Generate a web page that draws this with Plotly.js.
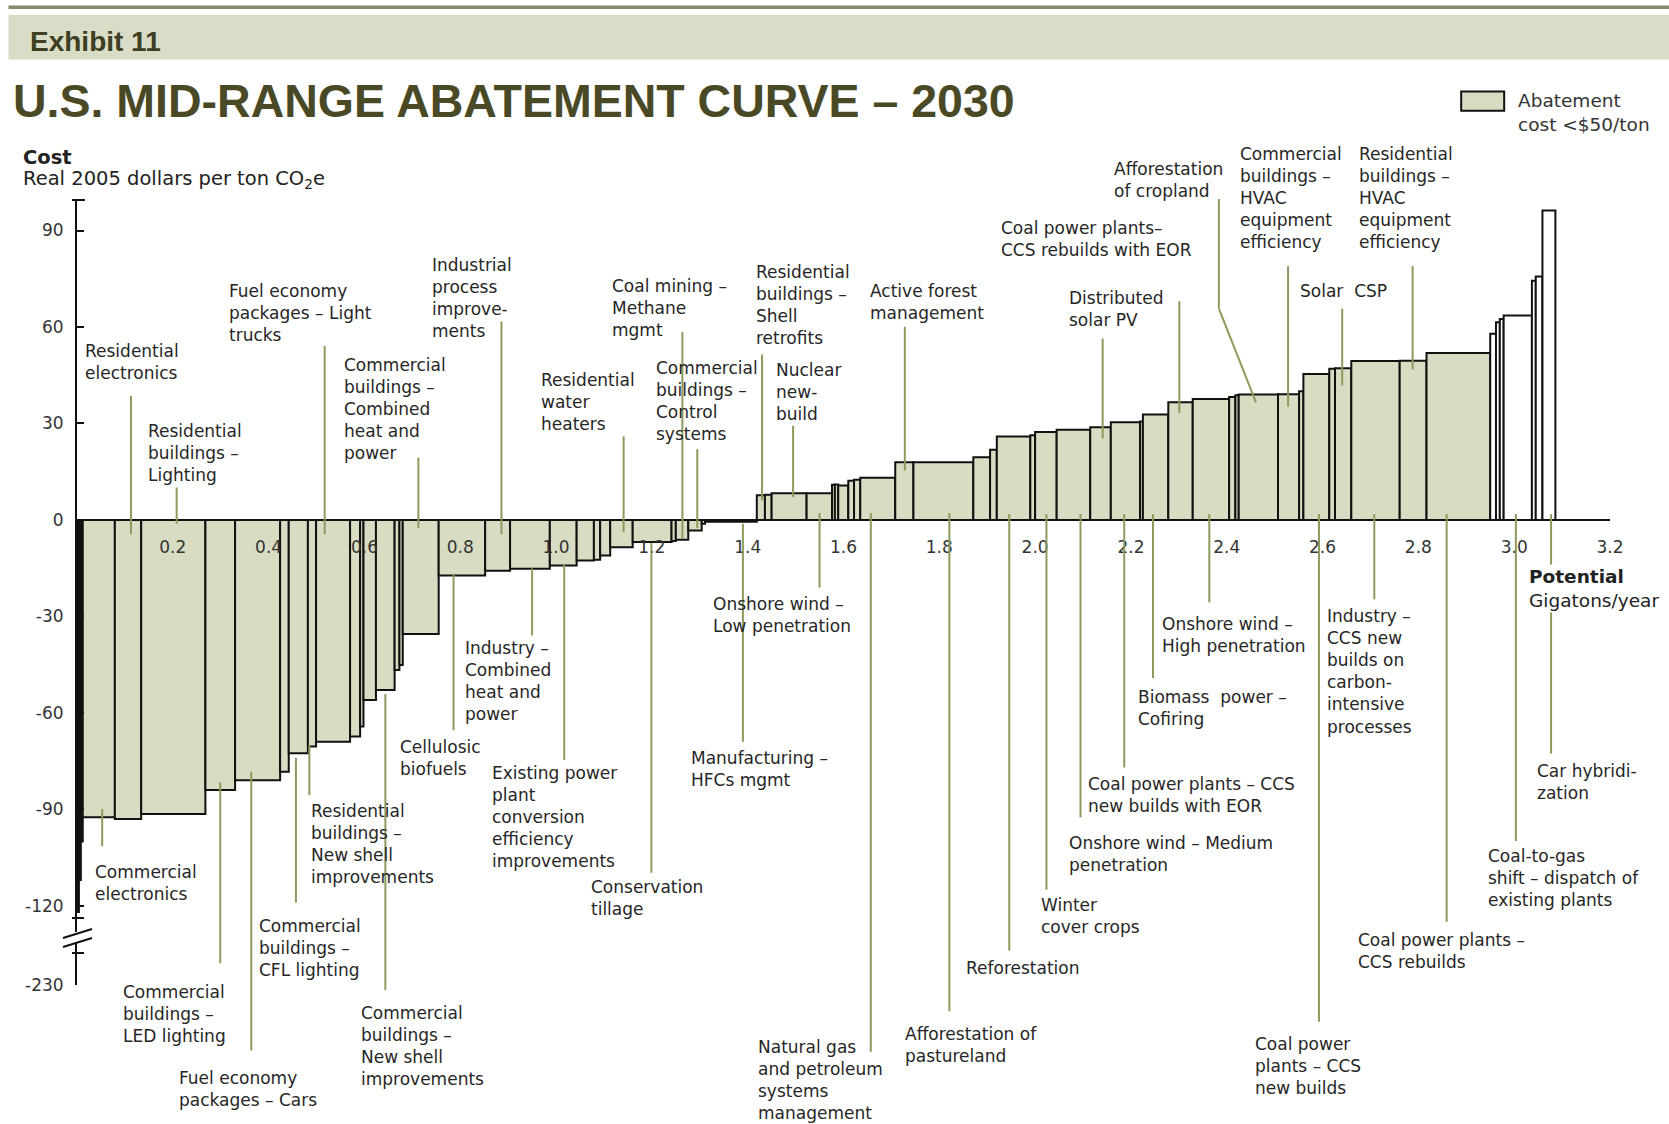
<!DOCTYPE html>
<html><head><meta charset="utf-8">
<script src="https://cdn.plot.ly/plotly-3.0.1.min.js"></script>
<style>html,body{margin:0;padding:0;background:#fff}#chart{width:1669px;height:1124px}</style>
</head><body><div id="chart"></div>
<script>
// ---------- DATA ----------
// Abatement potential of each lever (Gigatons CO2e / year), in curve order
const potential = [0.004,0.004,0.004,0.067,0.055,0.134,0.062,0.094,0.018,0.040,
  0.017,0.071,0.021,0.007,0.026,0.039,0.010,0.007,0.075,0.097,
  0.052,0.083,0.056,0.036,0.013,0.021,0.047,0.081,0.009,0.026,
  0.028,0.007,0.108,0.017,0.014,0.073,0.053,0.006,0.007,0.021,
  0.012,0.013,0.073,0.038,0.125,0.035,0.014,0.070,0.010,0.045,
  0.070,0.043,0.061,0.006,0.053,0.051,0.076,0.013,0.007,0.082,
  0.044,0.009,0.054,0.012,0.034,0.101,0.056,0.133,0.012,0.008,
  0.008,0.059,0.008,0.014,0.027];
// Abatement cost of each lever (real 2005 $ per ton CO2e)
const cost = [-122,-112,-100,-92.5,-93,-91.5,-84,-81,-78.3,-72.6,
  -70.5,-69,-67.4,-64.3,-56,-52.9,-46.7,-45.1,-35.5,-17.3,
  -15.8,-15.2,-14.2,-12.6,-12.4,-11.1,-8.5,-6.9,-6.6,-6.2,
  -3.3,-1.2,-0.6,7.7,7.8,8.3,8.3,10.9,11.0,10.7,
  12.2,12.5,13.1,17.9,17.9,19.5,21.8,25.9,26.3,27.3,
  28.0,28.8,30.4,30.6,32.8,36.6,37.6,38.2,38.8,39.0,
  39.1,40.0,45.4,47.0,47.2,49.4,49.5,51.9,57.9,61.5,
  62.5,63.6,74.4,75.7,96.2];
const xTickVals = [0.2,0.4,0.6,0.8,1.0,1.2,1.4,1.6,1.8,2.0,2.2,2.4,2.6,2.8,3.0,3.2];
const yTickVals = [90,60,30,0,-30,-60,-90,-120];
const yTickText = ['90','60','30','0','-30','-60','-90','-120'];
const brokenTickText = '-230';

// Lever names used as callouts
const labelText = [
  "Residential<br>electronics",
  "Residential<br>buildings –<br>Lighting",
  "Fuel economy<br>packages – Light<br>trucks",
  "Commercial<br>buildings –<br>Combined<br>heat and<br>power",
  "Industrial<br>process<br>improve-<br>ments",
  "Residential<br>water<br>heaters",
  "Coal mining –<br>Methane<br>mgmt",
  "Commercial<br>buildings –<br>Control<br>systems",
  "Residential<br>buildings –<br>Shell<br>retrofits",
  "Nuclear<br>new-<br>build",
  "Active forest<br>management",
  "Coal power plants–<br>CCS rebuilds with EOR",
  "Distributed<br>solar PV",
  "Afforestation<br>of cropland",
  "Commercial<br>buildings –<br>HVAC<br>equipment<br>efficiency",
  "Residential<br>buildings –<br>HVAC<br>equipment<br>efficiency",
  "Solar\u00a0 CSP",
  "Commercial<br>electronics",
  "Commercial<br>buildings –<br>LED lighting",
  "Fuel economy<br>packages – Cars",
  "Commercial<br>buildings –<br>CFL lighting",
  "Residential<br>buildings –<br>New shell<br>improvements",
  "Commercial<br>buildings –<br>New shell<br>improvements",
  "Cellulosic<br>biofuels",
  "Industry –<br>Combined<br>heat and<br>power",
  "Existing power<br>plant<br>conversion<br>efficiency<br>improvements",
  "Conservation<br>tillage",
  "Onshore wind –<br>Low penetration",
  "Manufacturing –<br>HFCs mgmt",
  "Natural gas<br>and petroleum<br>systems<br>management",
  "Afforestation of<br>pastureland",
  "Reforestation",
  "Winter<br>cover crops",
  "Onshore wind – Medium<br>penetration",
  "Coal power plants – CCS<br>new builds with EOR",
  "Biomass\u00a0 power –<br>Cofiring",
  "Onshore wind –<br>High penetration",
  "Industry –<br>CCS new<br>builds on<br>carbon-<br>intensive<br>processes",
  "Coal power<br>plants – CCS<br>new builds",
  "Coal power plants –<br>CCS rebuilds",
  "Coal-to-gas<br>shift – dispatch of<br>existing plants",
  "Car hybridi-<br>zation"
];
// Potential position (Gt) that each callout points at
const labelLever = [0.1126,0.208,0.517,0.7126,0.886,1.141,1.2637,1.2948,1.430,1.4948,
  1.728,2.301,2.141,2.461,2.528,2.788,2.641,
  0.0526,0.299,0.3637,0.457,0.485,0.6437,0.786,0.950,1.017,1.199,1.550,1.390,1.657,
  1.821,1.946,2.0236,2.0947,2.186,2.246,2.3636,2.708,2.5925,2.859,3.0035,3.077];

// ---------- LAYOUT PLACEMENT (page pixels of a 1568-wide view) ----------
const labelPos = [[80,330],[139,405],[215,273],[323,343],[406,249],[508,357],[575,269],[616,346],
  [710,256],[729,348],[817,273],[940,214],[1004,280],[1046,159],[1165,145],[1277,145],[1221,273],
  [89,819],[116,932],[168,1013],[243,870],[292,762],[339,952],[376,702],[437,609],[462,726],
  [555,833],[670,567],[649,712],[712,984],[850,971],[907,909],[978,850],[1004,792],[1022,737],
  [1069,655],[1092,586],[1247,579],[1179,981],[1276,883],[1398,804],[1444,724]];
const leaderSpan = [[372,502],[458,492],[325,502],[430,496],[302,502],[410,500],[312,506],[422,496],
  [333,470],[400,467],[307,442],[283,388],[318,412],null,[250,382],[250,347],[290,362],
  [760,795],[735,905],[725,987],[712,848],[700,747],[652,930],[540,686],[534,597],[530,714],
  [510,820],[482,552],[492,697],[482,988],[482,950],[483,893],[483,836],[483,768],[483,721],
  [483,637],[483,566],[483,563],[483,960],[483,866],[483,790],[483,708]];

const S = 1669/1568;
const PL = 77, PT = 200, PW = 1532.8, PH = 785;
const PXPERUNIT = 3.215;
const Y_TOP = 99.5, Y_BOT = Y_TOP - PH/PXPERUNIT;
const paperX = f => (f - PL)/PW;
const paperY = f => (PT + PH - f)/PH;
const dataXfromFull = f => (f - PL)/479;

// ---------- BARS ----------
const starts = []; let acc = 0;
potential.forEach(w => { starts.push(acc); acc += w; });
const lowX=[],lowW=[],lowY=[],hiX=[],hiW=[],hiY=[];
cost.forEach((c,i)=>{
  const m = starts[i] + potential[i]/2;
  if (c < 55) { lowX.push(m); lowW.push(potential[i]); lowY.push(c); }
  else { hiX.push(m); hiW.push(potential[i]); hiY.push(c); }
});
const FILL = '#d8dcc3';
const traces = [
  {type:'bar', x:lowX, y:lowY, width:lowW, marker:{color:FILL, line:{color:'#111', width:2}}, hoverinfo:'skip'},
  {type:'bar', x:hiX, y:hiY, width:hiW, marker:{color:'#ffffff', line:{color:'#111', width:2}}, hoverinfo:'skip'}
];

// ---------- SHAPES & ANNOTATIONS ----------
const shapes = [];
const annotations = [];
const LEADER = {color:'#8d9a5c', width:2};

// header rule and band
shapes.push({type:'rect', xref:'paper', yref:'paper', x0:paperX(8.5), x1:paperX(1669), y0:paperY(9), y1:paperY(5.5), fillcolor:'#858c6a', line:{width:0}});
shapes.push({type:'rect', xref:'paper', yref:'paper', x0:paperX(8.5), x1:paperX(1669), y0:paperY(59.5), y1:paperY(15), fillcolor:'#d9dcc6', line:{width:0}});
annotations.push({xref:'paper', yref:'paper', x:paperX(28), y:paperY(41), xanchor:'left', yanchor:'middle', showarrow:false,
  text:'<b>Exhibit 11</b>', font:{family:'Liberation Sans, Arial, sans-serif', size:28, color:'#3e3e22'}});

// legend
shapes.push({type:'rect', xref:'paper', yref:'paper', x0:paperX(1461), x1:paperX(1504), y0:paperY(110.7), y1:paperY(91.5), fillcolor:FILL, line:{color:'#111', width:2}});
annotations.push({xref:'paper', yref:'paper', x:paperX(1516), y:paperY(88), xanchor:'left', yanchor:'top', align:'left', showarrow:false,
  text:'Abatement<br>cost <$50/ton', font:{family:'DejaVu Sans, sans-serif', size:18.5, color:'#333'}});

// axis titles
annotations.push({xref:'paper', yref:'paper', x:paperX(21), y:paperY(157.5), xanchor:'left', yanchor:'middle', showarrow:false,
  text:'<b>Cost</b>', font:{family:'DejaVu Sans, sans-serif', size:19.5, color:'#222'}});
annotations.push({xref:'paper', yref:'paper', x:paperX(21), y:paperY(179), xanchor:'left', yanchor:'middle', showarrow:false,
  text:'Real 2005 dollars per ton CO<sub>2</sub>e', font:{family:'DejaVu Sans, sans-serif', size:19.5, color:'#222'}});

// axis cap and break marks
shapes.push({type:'line', xref:'paper', yref:'paper', x0:paperX(72), x1:paperX(85), y0:paperY(200), y1:paperY(200), line:{color:'#111', width:2}});
shapes.push({type:'line', xref:'paper', yref:'paper', x0:paperX(72), x1:paperX(84), y0:paperY(918), y1:paperY(918), line:{color:'#111', width:2}});
shapes.push({type:'line', xref:'paper', yref:'paper', x0:paperX(72), x1:paperX(84), y0:paperY(953), y1:paperY(953), line:{color:'#111', width:2}});
shapes.push({type:'rect', xref:'paper', yref:'paper', x0:paperX(72), x1:paperX(83), y0:paperY(943), y1:paperY(932), fillcolor:'#fff', line:{width:0}});
shapes.push({type:'line', xref:'paper', yref:'paper', x0:paperX(63), x1:paperX(92), y0:paperY(938), y1:paperY(929), line:{color:'#111', width:2}});
shapes.push({type:'line', xref:'paper', yref:'paper', x0:paperX(63), x1:paperX(92), y0:paperY(947), y1:paperY(938), line:{color:'#111', width:2}});

// callouts
labelText.forEach((t,i)=>{
  const [dx,dy] = labelPos[i];
  annotations.push({xref:'paper', yref:'paper', x:paperX(dx*S - 2), y:paperY(dy*S - 12), xanchor:'left', yanchor:'top', align:'left',
    showarrow:false, text:t, font:{family:'DejaVu Sans, sans-serif', size:17, color:'#262626'}});
  const sp = leaderSpan[i];
  if (sp) {
    shapes.push({type:'line', xref:'x', yref:'paper', x0:labelLever[i], x1:labelLever[i], y0:paperY(sp[0]*S), y1:paperY(sp[1]*S), line:LEADER});
  }
});
// bent leader for afforestation of cropland
const bendX = dataXfromFull(1145*S);
shapes.push({type:'line', xref:'x', yref:'paper', x0:bendX, x1:bendX, y0:paperY(187*S), y1:paperY(290*S), line:LEADER});
shapes.push({type:'line', xref:'x', yref:'paper', x0:bendX, x1:labelLever[13], y0:paperY(290*S), y1:paperY(378*S), line:LEADER});

// x-axis caption
annotations.push({xref:'paper', yref:'paper', x:paperX(1527), y:paperY(564), xanchor:'left', yanchor:'top', align:'left', showarrow:false,
  bgcolor:'#ffffff', text:'<b>Potential</b><br>Gigatons/year', font:{family:'DejaVu Sans, sans-serif', size:18.5, color:'#222'}});

const layout = {
  width:1669, height:1124,
  margin:{l:PL, r:1669-PL-PW, t:PT, b:1124-PT-PH, pad:0},
  paper_bgcolor:'#fff', plot_bgcolor:'rgba(0,0,0,0)',
  showlegend:false, barmode:'overlay',
  title:{text:'<b>U.S. MID-RANGE ABATEMENT CURVE – 2030</b>', xref:'container', yref:'container',
    x:13/1669, xanchor:'left', y:1-101/1124, yanchor:'middle',
    font:{family:'Liberation Sans, Arial, sans-serif', size:46.5, color:'#4a4926'}},
  xaxis:{range:[0,3.2], anchor:'free', position:(0-Y_BOT)/(Y_TOP-Y_BOT), showgrid:false, zeroline:false,
    showline:true, linecolor:'#111', linewidth:2, ticks:'', tickvals:xTickVals, tickformat:'.1f',
    ticklabelstandoff:12, tickfont:{family:'DejaVu Sans, sans-serif', size:17, color:'#333'}, layer:'above traces', fixedrange:true},
  yaxis:{range:[Y_BOT, Y_TOP], showgrid:false, zeroline:false, showline:true, linecolor:'#111', linewidth:2,
    ticks:'inside', ticklen:7, tickwidth:2, tickcolor:'#111',
    tickvals:yTickVals.concat([Y_BOT]), ticktext:yTickText.concat([brokenTickText]),
    ticklabelstandoff:8, tickfont:{family:'DejaVu Sans, sans-serif', size:17, color:'#333'}, layer:'above traces', fixedrange:true},
  shapes:shapes, annotations:annotations
};
Plotly.newPlot('chart', traces, layout, {staticPlot:true, displayModeBar:false});
</script></body></html>
